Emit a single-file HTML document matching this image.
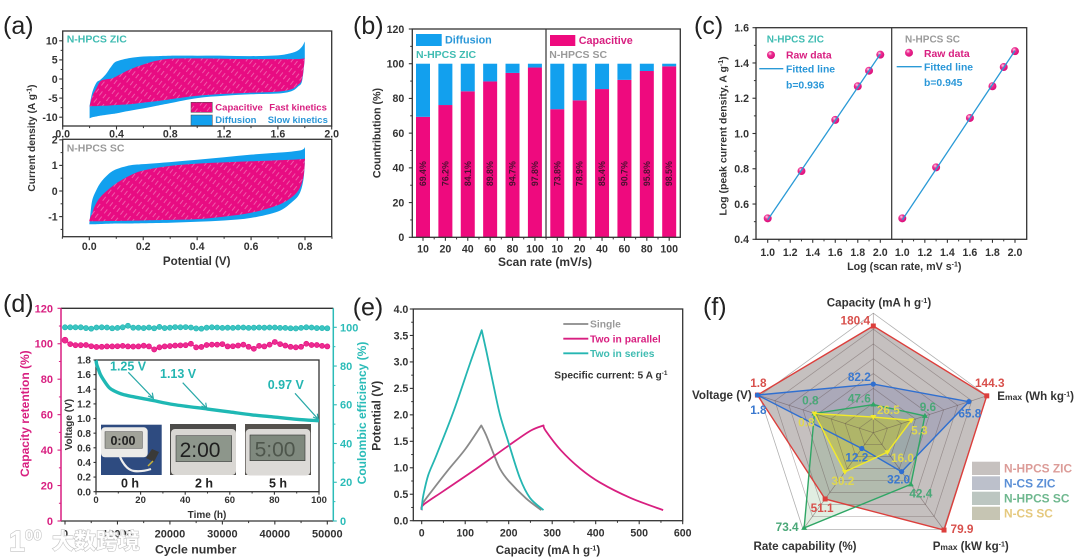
<!DOCTYPE html>
<html lang="en">
<head>
<meta charset="utf-8">
<title>Energy storage device performance panels</title>
<style>
html,body{margin:0;padding:0;background:#fff;width:1080px;height:560px;overflow:hidden}
svg{display:block;filter:blur(.35px)}
text{font-family:"Liberation Sans","Noto Sans CJK SC",sans-serif;font-weight:bold;fill:#333}
.letter{font-size:25px;font-weight:normal;fill:#222}
.title{font-size:11.6px;fill:#333}
.teal{fill:#3fbcb2}.grey{fill:#9a9a9a}.pink{fill:#d81f80}.blue{fill:#2a97d8}
.frame{fill:none;stroke:#333;stroke-width:1.3}
</style>
</head>
<body>
<svg id="chart" xmlns="http://www.w3.org/2000/svg" width="1080" height="560" viewBox="0 0 1080 560">
<defs>
<pattern id="hatch" patternUnits="userSpaceOnUse" width="4.5" height="9" patternTransform="rotate(38)">
<rect width="4.5" height="9" fill="#e80c82"/>
<line x1="2" y1="0" x2="2" y2="5" stroke="#f590c4" stroke-width=".6"/>
</pattern>
<radialGradient id="sphere" cx=".38" cy=".32" r=".75">
<stop offset="0" stop-color="#ffd8ec"/><stop offset=".35" stop-color="#ec2d90"/><stop offset="1" stop-color="#d80a78"/>
</radialGradient>
</defs>

<g id="panel-a">
<text class="letter" x="3" y="34">(a)</text>
<g id="a-marks"></g>
<rect class="frame" x="62.7" y="31" width="269" height="95"/>
<rect class="frame" x="62.7" y="139.3" width="269" height="97.4"/>
<text class="teal" x="66.7" y="42.3" font-size="10.5">N-HPCS ZIC</text>
<text class="grey" x="66.7" y="151.7" font-size="10.5">N-HPCS SC</text>
<rect x="191" y="102.3" width="21.3" height="10" fill="url(#hatch)" stroke="#444" stroke-width=".5"/>
<rect x="191" y="115" width="21.3" height="10.5" fill="#12a0ee" stroke="#444" stroke-width=".5"/>
<text class="pink" x="215.3" y="110.3" font-size="9.5">Capacitive</text>
<text class="pink" x="269.3" y="110.3" font-size="9.5">Fast kinetics</text>
<text class="blue" x="215.3" y="122.9" font-size="9.5">Diffusion</text>
<text class="blue" x="267.7" y="122.9" font-size="9.5">Slow kinetics</text>
<text class="title" x="196.7" y="265" text-anchor="middle">Potential (V)</text>
<text class="title" transform="translate(35,138) rotate(-90)" text-anchor="middle" style="font-size:10.2px">Current density (A g<tspan dy="-3.5" font-size="7">-1</tspan><tspan dy="3.5">)</tspan></text>
</g>

<g id="panel-b">
<text class="letter" x="353" y="34">(b)</text>
<g id="b-marks"></g>
<rect class="frame" x="412.3" y="29" width="268" height="208.3"/>
<line x1="546" x2="546" y1="29" y2="237.3" stroke="#333" stroke-width="1.2"/>
<rect x="416" y="34" width="25.7" height="12" fill="#12a0ee"/>
<text x="445" y="43.6" font-size="10.8" style="fill:#2a97d8">Diffusion</text>
<rect x="550" y="35" width="25.3" height="11" fill="#ee0a7e"/>
<text class="pink" x="578.7" y="44" font-size="10.8">Capacitive</text>
<text class="teal" x="416" y="58" font-size="10.5">N-HPCS ZIC</text>
<text class="grey" x="549.3" y="58" font-size="10.5">N-HPCS SC</text>
<text class="title" x="545" y="266" text-anchor="middle" style="font-size:12px">Scan rate (mV/s)</text>
<text class="title" transform="translate(380.5,133) rotate(-90)" text-anchor="middle" style="font-size:10.7px">Countribution (%)</text>
</g>

<g id="panel-c">
<text class="letter" x="694" y="34">(c)</text>
<g id="c-marks"></g>
<rect class="frame" x="756" y="27.7" width="270.7" height="211.6"/>
<line x1="891.7" x2="891.7" y1="27.7" y2="239.3" stroke="#333" stroke-width="1.2"/>
<text class="teal" x="766.7" y="42.3" font-size="10">N-HPCS ZIC</text>
<circle cx="771" cy="55" r="4" fill="url(#sphere)"/>
<text class="pink" x="786" y="58.6" font-size="10.4">Raw data</text>
<line x1="759.3" x2="783.3" y1="68.7" y2="68.7" stroke="#2a9ad6" stroke-width="1.4"/>
<text class="blue" x="786" y="72.5" font-size="10.4">Fitted line</text>
<text class="blue" x="786" y="88.6" font-size="10.4">b=0.936</text>
<text class="grey" x="905" y="42.3" font-size="10">N-HPCS SC</text>
<circle cx="909" cy="52.7" r="4" fill="url(#sphere)"/>
<text class="pink" x="924" y="57" font-size="10.4">Raw data</text>
<line x1="896.7" x2="921.7" y1="66.7" y2="66.7" stroke="#2a9ad6" stroke-width="1.4"/>
<text class="blue" x="924" y="70.3" font-size="10.4">Fitted line</text>
<text class="blue" x="924" y="86" font-size="10.4">b=0.945</text>
<text class="title" x="904.3" y="270" text-anchor="middle" style="font-size:10.7px">Log (scan rate, mV s<tspan dy="-3.5" font-size="7">-1</tspan><tspan dy="3.5">)</tspan></text>
<text class="title" transform="translate(726.5,136) rotate(-90)" text-anchor="middle" style="font-size:10.5px">Log (peak current density, A g<tspan dy="-3.5" font-size="7">-1</tspan><tspan dy="3.5">)</tspan></text>
</g>

<g id="panel-d">
<text class="letter" x="3" y="312">(d)</text>
<line x1="61" x2="333.3" y1="308.3" y2="308.3" stroke="#333" stroke-width="1.3"/>
<line x1="61" x2="333.3" y1="521" y2="521" stroke="#333" stroke-width="1.3"/>
<line x1="61" x2="61" y1="308.3" y2="521" stroke="#d81f80" stroke-width="1.5"/>
<line x1="333.3" x2="333.3" y1="308.3" y2="521" stroke="#2bbcb8" stroke-width="1.5"/>
<g id="d-marks"></g>
<rect class="frame" x="96" y="360" width="223" height="131.7"/>
<g id="d-inset"></g>
<text class="teal" x="110" y="370.7" font-size="12.5" style="fill:#25b6b2">1.25 V</text>
<text class="teal" x="160" y="378" font-size="12.5" style="fill:#25b6b2">1.13 V</text>
<text class="teal" x="267.7" y="389" font-size="12.5" style="fill:#25b6b2">0.97 V</text>
<path d="M128.3 372.3L153.3 398.3M148 396l5.3 2.3-1-5.6M182.7 382.7L206.7 408.3M201.5 406l5.2 2.3-1-5.6M295 393.3L318.3 419.3M313 417l5.3 2.3-1-5.6" fill="none" stroke="#2aa9a8" stroke-width="1.2"/>
<g>
<rect x="101" y="424.7" width="60.7" height="50.3" fill="#2e4b80"/>
<path d="M120 457q6 13 14 14q8 1 17-2" fill="none" stroke="#eee" stroke-width="2.2"/>
<path d="M146 458l6-9 7 3-5 10z" fill="#3a3a38"/>
<path d="M148 466l5-5" stroke="#c8b23a" stroke-width="1.5"/>
<rect x="101" y="427.3" width="46.7" height="30" rx="4" fill="#ecebe8"/>
<rect x="105" y="431.7" width="37.3" height="16.6" fill="#a2a39a" stroke="#444" stroke-width=".5"/>
<text x="123" y="445" text-anchor="middle" font-size="12.5" style="fill:#222">0:00</text>
</g>
<g>
<rect x="170" y="424" width="66" height="51" fill="#4d4c4a"/>
<rect x="171" y="429" width="65" height="46" rx="4" fill="#d9d7d3"/>
<rect x="176" y="435.7" width="55.7" height="26" fill="#8d968b" stroke="#444" stroke-width=".6"/>
<text x="200" y="457" text-anchor="middle" font-size="21" style="fill:#1f1f1f;font-weight:normal">2:00</text>
</g>
<g>
<rect x="245" y="424" width="66" height="51" fill="#55524e"/>
<rect x="245.7" y="429" width="64.5" height="46.5" rx="4" fill="#dcdad7"/>
<rect x="250" y="435" width="55" height="25.7" fill="#7f897e" stroke="#333" stroke-width=".6"/>
<text x="275" y="456.5" text-anchor="middle" font-size="21" style="fill:#4e564c;font-weight:normal">5:00</text>
</g>
<text x="130" y="487.7" text-anchor="middle" font-size="12.5" style="fill:#222">0 h</text>
<text x="204" y="487.7" text-anchor="middle" font-size="12.5" style="fill:#222">2 h</text>
<text x="278" y="487.7" text-anchor="middle" font-size="12.5" style="fill:#222">5 h</text>
<text x="207" y="518" text-anchor="middle" font-size="10">Time (h)</text>
<text transform="translate(72,424.7) rotate(-90)" text-anchor="middle" font-size="10">Voltage (V)</text>
<text class="title" x="195.7" y="553.3" text-anchor="middle" style="font-size:12.3px">Cycle number</text>
<text class="pink" transform="translate(29,413.7) rotate(-90)" text-anchor="middle" font-size="12">Capacity retention (%)</text>
<text class="teal" transform="translate(366,413) rotate(-90)" text-anchor="middle" font-size="12" style="fill:#2bbcb8">Coulombic efficiency (%)</text>
</g>

<g id="panel-e">
<text class="letter" x="352.7" y="315.7">(e)</text>
<g id="e-marks"></g>
<rect class="frame" x="413.3" y="309" width="269.4" height="211.7"/>
<line x1="563.3" x2="588.3" y1="324" y2="324" stroke="#8a8a8a" stroke-width="1.8"/>
<text class="grey" x="590" y="327.6" font-size="10.3">Single</text>
<line x1="563.3" x2="588.3" y1="338.7" y2="338.7" stroke="#d81f80" stroke-width="1.8"/>
<text class="pink" x="590" y="342.3" font-size="10.3">Two in parallel</text>
<line x1="563.3" x2="588.3" y1="353.3" y2="353.3" stroke="#25b6b2" stroke-width="1.8"/>
<text class="teal" x="590" y="356.9" font-size="10.3">Two in series</text>
<text x="554.3" y="378.3" font-size="10.2">Specific current: 5 A g<tspan dy="-3.5" font-size="6.5">-1</tspan></text>
<text class="title" x="548" y="554" text-anchor="middle">Capacity (mA h g<tspan dy="-3.5" font-size="7">-1</tspan><tspan dy="3.5">)</tspan></text>
<text class="title" transform="translate(380.5,415.8) rotate(-90)" text-anchor="middle" style="font-size:12px">Potential (V)</text>
</g>

<g id="panel-f">
<text class="letter" x="703" y="315">(f)</text>
<g id="f-marks"></g>
<text class="title" x="879" y="306.7" text-anchor="middle">Capacity (mA h g<tspan dy="-3.5" font-size="7">-1</tspan><tspan dy="3.5">)</tspan></text>
<text class="title" x="997.3" y="400">E<tspan font-size="8.5">max</tspan> (Wh kg<tspan dy="-3.5" font-size="7">-1</tspan><tspan dy="3.5">)</tspan></text>
<text class="title" x="932.7" y="550">P<tspan font-size="8.5">max</tspan> (kW kg<tspan dy="-3.5" font-size="7">-1</tspan><tspan dy="3.5">)</tspan></text>
<text class="title" x="805" y="550" text-anchor="middle">Rate capability (%)</text>
<text class="title" x="751.7" y="399" text-anchor="end">Voltage (V)</text>
<rect x="972" y="461.7" width="28" height="13.3" fill="#c6c1bf"/>
<rect x="972" y="476.3" width="28" height="13.7" fill="#bcc0cb"/>
<rect x="972" y="491.7" width="28" height="13.3" fill="#bcc6c1"/>
<rect x="972" y="506.7" width="28" height="13.3" fill="#c6c5b3"/>
<text x="1004" y="472.5" font-size="11.9" style="fill:#dc9c98">N-HPCS ZIC</text>
<text x="1004" y="487.5" font-size="11.9" style="fill:#5b8fd6">N-CS ZIC</text>
<text x="1004" y="502.5" font-size="11.9" style="fill:#6fb88f">N-HPCS SC</text>
<text x="1004" y="517.5" font-size="11.9" style="fill:#e5c97e">N-CS SC</text>
</g>

<g id="axes-top"></g>

<g opacity=".9">
<text x="9" y="551" font-size="29" style="fill:#fff;stroke:#bdbdbd;stroke-width:1.2;paint-order:stroke">1</text>
<text x="25" y="540" font-size="15" style="fill:#fff;stroke:#bdbdbd;stroke-width:1.2;paint-order:stroke">00</text>
<text x="52" y="549" font-size="22" style="fill:#fff;stroke:#bdbdbd;stroke-width:1.2;paint-order:stroke">大数跨境</text>
</g>
</svg>

<script>
/* ---------- panel a data ---------- */
const zicV = [0.2,0.22,0.25,0.28,0.32,0.36,0.4,0.5,0.6,0.7,0.8,1.0,1.2,1.4,1.6,1.7,1.75,1.78,1.8];
const zicOuterUp = [-7,-3.5,-1,-0.2,1.2,3.2,4.6,5.5,5.9,6,6.1,6.1,6.1,6,6.2,6.8,7.5,8.5,9.8];
const zicOuterDown = [-10.3,-10,-9.8,-9.6,-9.4,-9.2,-9,-8.3,-7.7,-7,-6.3,-5,-4.4,-4,-3.8,-3.2,-2,-0.5,5.3];
const zicInnerUp = [-7.2,-4.5,-2.5,-0.6,-0.1,0.1,0.7,2.5,3.8,4.8,5.3,5.4,5.3,5.2,5.2,5.2,5.2,5.3,5.4];
const zicInnerDown = [-7.2,-7.1,-7.1,-7,-7,-6.9,-6.8,-6.6,-6.2,-5.8,-5.3,-4.4,-3.9,-3.6,-3.3,-2.7,-1.5,0,5.4];
const scV = [0,0.005,0.01,0.02,0.04,0.07,0.1,0.15,0.2,0.3,0.4,0.5,0.6,0.7,0.75,0.78,0.795,0.8];
const scOuterUp = [-1.3,-0.8,-0.4,-0.1,0.3,0.65,0.85,1,1.05,1.13,1.22,1.32,1.42,1.5,1.54,1.58,1.64,1.72];
const scOuterDown = [-1.3,-1.3,-1.3,-1.3,-1.29,-1.28,-1.27,-1.27,-1.26,-1.24,-1.2,-1.15,-1.05,-0.8,-0.45,-0.1,0.5,1.25];
const scInnerUp = [-1.15,-1,-0.9,-0.6,-0.25,0.05,0.3,0.6,0.8,0.98,1.07,1.12,1.16,1.2,1.22,1.24,1.25,1.27];
const scInnerDown = [-1.18,-1.18,-1.18,-1.18,-1.18,-1.17,-1.17,-1.16,-1.15,-1.13,-1.1,-1,-0.85,-0.55,-0.25,0.1,0.6,1.27];
const aTopXTicks = [0,0.4,0.8,1.2,1.6,2];
const aTopXLabels = ['0.0','0.4','0.8','1.2','1.6','2.0'];
const aTopXMinor = [0.2,0.6,1,1.4,1.8];
const aTopYTicks = [10,5,0,-5,-10];
const aTopYLabels = ['10','5','0','-5','-10'];
const aTopYMinor = [7.5,2.5,-2.5,-7.5];
const aBotXTicks = [0,0.2,0.4,0.6,0.8];
const aBotXLabels = ['0.0','0.2','0.4','0.6','0.8'];
const aBotXMinor = [-0.1,0.1,0.3,0.5,0.7,0.9];
const aBotYTicks = [2,1,0,-1];
const aBotYLabels = ['2','1','0','-1'];
const aBotYMinor = [1.5,0.5,-0.5,-1.5];

/* ---------- panel b data ---------- */
const scanRates = ['10','20','40','60','80','100','10','20','40','60','80','100'];
const capacitive = [69.4,76.2,84.1,89.8,94.7,97.8,73.8,78.9,85.4,90.7,95.8,98.5];
const diffusion = [30.6,23.8,15.9,10.2,5.3,2.2,26.2,21.1,14.6,9.3,4.2,1.5];
const bYTicks = [0,20,40,60,80,100,120];
const bYLabels = ['0','20','40','60','80','100','120'];
const bYMinor = [10,30,50,70,90,110];

/* ---------- panel c data ---------- */
const logRate = [1,1.3,1.6,1.8,1.9,2];
const logPeakZic = [0.519,0.787,1.077,1.268,1.356,1.447];
const logPeakSc = [0.519,0.808,1.088,1.268,1.377,1.467];
const fitX = [1,2];
const fitZic = [0.51,1.45];
const fitSc = [0.51,1.47];
const cXTicks = [1,1.2,1.4,1.6,1.8,2];
const cXLabels = ['1.0','1.2','1.4','1.6','1.8','2.0'];
const cXMinor = [1.1,1.3,1.5,1.7,1.9];
const cYTicks = [0.4,0.6,0.8,1,1.2,1.4,1.6];
const cYLabels = ['0.4','0.6','0.8','1.0','1.2','1.4','1.6'];
const cYMinor = [0.5,0.7,0.9,1.1,1.3,1.5];

/* ---------- panel d data ---------- */
const cycles = [0,1000,2000,3000,4000,5000,6000,7000,8000,9000,10000,11000,12000,13000,14000,15000,16000,17000,18000,19000,20000,21000,22000,23000,24000,25000,26000,27000,28000,29000,30000,31000,32000,33000,34000,35000,36000,37000,38000,39000,40000,41000,42000,43000,44000,45000,46000,47000,48000,49000,50000];
const retention = [102,99.8,99.2,99.2,99.3,98.6,98.2,98.3,98.5,98.5,98.6,98.8,98.5,98.4,98.5,98.9,98.5,96.8,98,98.5,98.7,99,99.1,99.2,100,98,98.2,99.3,99.5,99.5,99.8,98.5,98.6,99,99.5,98.3,97.2,98.8,98.5,99.5,101,99.8,99,98.3,98,98.3,100,99.3,99.3,98.8,98.5];
const coulombic = [100,100,100,100,99.6,99.3,99.9,100,99.9,99.5,99.7,100,100.8,99.8,99.8,99.6,99.9,99.5,100.2,99.6,99.8,100.1,100,100.1,99.9,99.4,99.3,99.8,100,99.9,99.7,99.8,99.7,99.9,99.9,99.7,99.8,99.9,99.8,99.9,99.9,99.7,99.7,99.5,99.4,99.7,100,99.9,99.6,99.6,99.5];
const dischargeHours = [0,0.3,1,2,4,6,8,12,18,25,35,50,60,70,80,90,100];
const dischargeVolts = [1.8,1.74,1.68,1.6,1.5,1.42,1.38,1.33,1.29,1.25,1.19,1.13,1.09,1.05,1.02,0.99,0.97];
const dXTicks = [0,10000,20000,30000,40000,50000];
const dXLabels = ['0','10000','20000','30000','40000','50000'];
const dXMinor = [5000,15000,25000,35000,45000];
const dLeftTicks = [0,20,40,60,80,100,120];
const dLeftLabels = ['0','20','40','60','80','100','120'];
const dLeftMinor = [10,30,50,70,90,110];
const dRightTicks = [0,20,40,60,80,100];
const dRightLabels = ['0','20','40','60','80','100'];
const dRightMinor = [10,30,50,70,90];
const insetXTicks = [0,20,40,60,80,100];
const insetXLabels = ['0','20','40','60','80','100'];
const insetXMinor = [10,30,50,70,90];
const insetYTicks = [0,0.2,0.4,0.6,0.8,1,1.2,1.4,1.6,1.8];
const insetYLabels = ['0.0','0.2','0.4','0.6','0.8','1.0','1.2','1.4','1.6','1.8'];

/* ---------- panel e data (charge then discharge branch) ---------- */
const singleChargeCap = [0,2,25,60,100,137];
const singleChargeV = [0.2,0.32,0.58,0.95,1.35,1.8];
const singleDischargeCap = [137,148,165,180,200,240,275];
const singleDischargeV = [1.8,1.62,1.27,0.98,0.75,0.42,0.2];
const parallelChargeCap = [0,4,50,120,200,250,280];
const parallelChargeV = [0.2,0.3,0.56,0.95,1.42,1.7,1.8];
const parallelDischargeCap = [280,285,320,365,410,480,555];
const parallelDischargeV = [1.8,1.7,1.33,0.98,0.72,0.43,0.2];
const seriesChargeCap = [0,1,4,15,34,73,111,138];
const seriesChargeV = [0.2,0.32,0.49,0.86,1.24,2.06,2.97,3.6];
const seriesDischargeCap = [138,149,165,180,199,226,249,280];
const seriesDischargeV = [3.6,3.19,2.56,2,1.49,0.8,0.43,0.2];
const eXTicks = [0,100,200,300,400,500,600];
const eXLabels = ['0','100','200','300','400','500','600'];
const eXMinor = [50,150,250,350,450,550];
const eYTicks = [0,0.5,1,1.5,2,2.5,3,3.5,4];
const eYLabels = ['0.0','0.5','1.0','1.5','2.0','2.5','3.0','3.5','4.0'];
const eYMinor = [0.25,0.75,1.25,1.75,2.25,2.75,3.25,3.75];

/* ---------- panel f data (capacity, Emax, Pmax, rate capability, voltage) ---------- */
const radarAxes = ['capacity','emax','pmax','rate-capability','voltage'];
const nhpcsZic = [180.4,144.3,79.9,51.1,1.8];
const ncsZic = [82.2,65.8,32.0,12.2,1.8];
const nhpcsSc = [47.6,9.6,42.4,73.4,0.8];
const ncsSc = [26.5,5.3,16.0,30.2,0.8];

/* ---------- helpers ---------- */
const NS = 'http://www.w3.org/2000/svg';
function add(parent, tag, attrs) {
  const e = document.createElementNS(NS, tag);
  for (const k in attrs) e.setAttribute(k, attrs[k]);
  parent.appendChild(e);
  return e;
}
const scale = (d0, d1, r0, r1) => v => r0 + (v - d0) * (r1 - r0) / (d1 - d0);
const xy = (xs, ys, fx, fy) => xs.map((x, i) => [fx(x), fy(ys[i])]);
/* Catmull-Rom through points; cmd is the leading command (M or L) */
function curve(p, cmd) {
  let d = cmd + p[0][0].toFixed(2) + ' ' + p[0][1].toFixed(2);
  for (let i = 0; i < p.length - 1; i++) {
    const a = p[Math.max(i - 1, 0)], b = p[i], c = p[i + 1], e = p[Math.min(i + 2, p.length - 1)];
    d += 'C' + (b[0] + (c[0] - a[0]) / 6).toFixed(2) + ' ' + (b[1] + (c[1] - a[1]) / 6).toFixed(2) + ' ' +
         (c[0] - (e[0] - b[0]) / 6).toFixed(2) + ' ' + (c[1] - (e[1] - b[1]) / 6).toFixed(2) + ' ' +
         c[0].toFixed(2) + ' ' + c[1].toFixed(2);
  }
  return d;
}
const band = (xs, up, down, fx, fy) => curve(xy(xs, up, fx, fy), 'M') + curve(xy(xs, down, fx, fy).reverse(), 'L') + 'Z';

function axis(parent, side, pos, s, ticks, labels, minor, o) {
  const color = o.color || '#333', fs = o.fs || 10.6, gap = o.gap, len = o.len || 3.5;
  const horizontal = side === 'bottom';
  const sign = side === 'left' ? -1 : 1;
  ticks.forEach((v, i) => {
    const p = s(v);
    const t = horizontal
      ? add(parent, 'line', {x1: p, x2: p, y1: pos, y2: pos + len, stroke: color, 'stroke-width': 1.1})
      : add(parent, 'line', {y1: p, y2: p, x1: pos, x2: pos + sign * len, stroke: color, 'stroke-width': 1.1});
    
    
    const l = horizontal
      ? add(parent, 'text', {x: p, y: pos + gap, 'text-anchor': 'middle', 'font-size': fs, style: 'fill:' + color})
      : add(parent, 'text', {x: pos + sign * gap, y: p + fs * 0.36, 'text-anchor': side === 'left' ? 'end' : 'start', 'font-size': fs, style: 'fill:' + color});
    l.textContent = labels[i];
    
    
  });
  (minor || []).forEach(v => {
    const p = s(v);
    const t = horizontal
      ? add(parent, 'line', {x1: p, x2: p, y1: pos, y2: pos + len * 0.6, stroke: color, 'stroke-width': 1})
      : add(parent, 'line', {y1: p, y2: p, x1: pos, x2: pos + sign * len * 0.6, stroke: color, 'stroke-width': 1});
    
    
  });
}

const axesG = document.getElementById('axes-top');

/* ---------- panel a ---------- */
const aMarks = document.getElementById('a-marks');
const axTop = scale(0, 2, 62.7, 331.7);
const ayTop = scale(0, 10, 79, 40.8);
const axBot = scale(0, 0.8, 89.3, 305);
const ayBot = scale(0, 1, 191, 165.4);

const zicOuter = add(aMarks, 'path', {d: band(zicV, zicOuterUp, zicOuterDown, axTop, ayTop), fill: '#12a0ee'});


const zicInner = add(aMarks, 'path', {d: band(zicV, zicInnerUp, zicInnerDown, axTop, ayTop), fill: 'url(#hatch)'});


const scOuter = add(aMarks, 'path', {d: band(scV, scOuterUp, scOuterDown, axBot, ayBot), fill: '#12a0ee'});


const scInner = add(aMarks, 'path', {d: band(scV, scInnerUp, scInnerDown, axBot, ayBot), fill: 'url(#hatch)'});



axis(axesG, 'bottom', 126, axTop, aTopXTicks, aTopXLabels, aTopXMinor, {gap: 11.5});
axis(axesG, 'left', 62.7, ayTop, aTopYTicks, aTopYLabels, aTopYMinor, {gap: 5});
axis(axesG, 'bottom', 236.7, axBot, aBotXTicks, aBotXLabels, aBotXMinor, {gap: 13.5});
axis(axesG, 'left', 62.7, ayBot, aBotYTicks, aBotYLabels, aBotYMinor, {gap: 5});

/* ---------- panel b ---------- */
const bMarks = document.getElementById('b-marks');
const bx = scale(0, 11, 423, 669.2);
const by = scale(0, 120, 237.3, 29);
const barW = 14;
capacitive.forEach((v, i) => {
  const bar = add(bMarks, 'rect', {x: bx(i) - barW / 2, y: by(v), width: barW, height: by(0) - by(v), fill: '#ee0a7e'});
  
  
  const top = add(bMarks, 'rect', {x: bx(i) - barW / 2, y: by(v + diffusion[i]), width: barW, height: by(v) - by(v + diffusion[i]), fill: '#12a0ee'});
  
  
  const lab = add(bMarks, 'text', {transform: 'translate(' + (bx(i) + 3) + ',173.7) rotate(-90)', 'text-anchor': 'middle', 'font-size': 8.8, style: 'fill:#4a1030'});
  lab.textContent = v.toFixed(1) + '%';
  
  
});
const bIdx = scanRates.map((_, i) => i);
const bMinorIdx = bIdx.slice(0, -1).map(i => i + 0.5);
axis(axesG, 'bottom', 237.3, bx, bIdx, scanRates, bMinorIdx, {gap: 15});
axis(axesG, 'left', 412.3, by, bYTicks, bYLabels, bYMinor, {gap: 8});

/* ---------- panel c ---------- */
const cMarks = document.getElementById('c-marks');
const cy = scale(0.4, 1.6, 239.3, 27.7);
const cx1 = scale(1, 2, 767.7, 880.3);
const cx2 = scale(1, 2, 902.3, 1015);
logRate.forEach((x, i) => {
  const a = add(cMarks, 'circle', {cx: cx1(x), cy: cy(logPeakZic[i]), r: 4, fill: 'url(#sphere)'});
  
  
  const b = add(cMarks, 'circle', {cx: cx2(x), cy: cy(logPeakSc[i]), r: 4, fill: 'url(#sphere)'});
  
  
});
const fit1 = add(cMarks, 'polyline', {points: xy(fitX, fitZic, cx1, cy).join(' '), fill: 'none', stroke: '#2a9ad6', 'stroke-width': 1.3});


const fit2 = add(cMarks, 'polyline', {points: xy(fitX, fitSc, cx2, cy).join(' '), fill: 'none', stroke: '#2a9ad6', 'stroke-width': 1.3});


axis(axesG, 'bottom', 239.3, cx1, cXTicks, cXLabels, cXMinor, {gap: 16.7});
axis(axesG, 'bottom', 239.3, cx2, cXTicks, cXLabels, cXMinor, {gap: 16.7});
axis(axesG, 'left', 756, cy, cYTicks, cYLabels, cYMinor, {gap: 7});

/* ---------- panel d ---------- */
const dMarks = document.getElementById('d-marks');
const dx = scale(0, 50000, 65, 327.3);
const dyL = scale(0, 120, 521, 308.3);
const dyR = scale(0, 100, 521, 327.3);
const retLine = add(dMarks, 'polyline', {points: xy(cycles, retention, dx, dyL).join(' '), fill: 'none', stroke: '#e60a80', 'stroke-width': 1});


const ceLine = add(dMarks, 'polyline', {points: xy(cycles, coulombic, dx, dyR).join(' '), fill: 'none', stroke: '#23b8b6', 'stroke-width': 1});


cycles.forEach((c, i) => {
  const r = add(dMarks, 'circle', {cx: dx(c), cy: dyL(retention[i]), r: i === 0 ? 3 : 2.6, fill: '#ec2d90', stroke: '#e60a80', 'stroke-width': .6});
  
  
  const e = add(dMarks, 'circle', {cx: dx(c), cy: dyR(coulombic[i]), r: 2.6, fill: '#3cc5c2', stroke: '#1fb3b1', 'stroke-width': .6});
  
  
});
axis(axesG, 'bottom', 521, dx, dXTicks, dXLabels, dXMinor, {gap: 16.3, fs: 11});
axis(axesG, 'left', 61, dyL, dLeftTicks, dLeftLabels, dLeftMinor, {gap: 8, color: '#d81f80', fs: 11});
axis(axesG, 'right', 333.3, dyR, dRightTicks, dRightLabels, dRightMinor, {gap: 6.7, color: '#2bbcb8', fs: 11});

const dInset = document.getElementById('d-inset');
const ix = scale(0, 100, 96, 319);
const iy = scale(0, 1.8, 491.7, 360);
const dis = add(dInset, 'path', {d: curve(xy(dischargeHours, dischargeVolts, ix, iy), 'M'), fill: 'none', stroke: '#1fb8b4', 'stroke-width': 3.4, 'stroke-linejoin': 'round'});


axis(axesG, 'bottom', 491.7, ix, insetXTicks, insetXLabels, insetXMinor, {gap: 11.2, fs: 9.5, len: 3});
axis(axesG, 'left', 96, iy, insetYTicks, insetYLabels, [], {gap: 5, fs: 10, len: 2.5});

/* ---------- panel e ---------- */
const eMarks = document.getElementById('e-marks');
const ex = scale(0, 600, 421.7, 682.7);
const ey = scale(0, 4, 520.7, 309);
const singleLine = add(eMarks, 'path', {d: curve(xy(singleChargeCap, singleChargeV, ex, ey), 'M') + curve(xy(singleDischargeCap, singleDischargeV, ex, ey), 'L'), fill: 'none', stroke: '#8a8a8a', 'stroke-width': 1.8, 'stroke-linejoin': 'round'});


const parLine = add(eMarks, 'path', {d: curve(xy(parallelChargeCap, parallelChargeV, ex, ey), 'M') + curve(xy(parallelDischargeCap, parallelDischargeV, ex, ey), 'L'), fill: 'none', stroke: '#d81f80', 'stroke-width': 1.8, 'stroke-linejoin': 'round'});


const serLine = add(eMarks, 'path', {d: curve(xy(seriesChargeCap, seriesChargeV, ex, ey), 'M') + curve(xy(seriesDischargeCap, seriesDischargeV, ex, ey), 'L'), fill: 'none', stroke: '#25b6b2', 'stroke-width': 1.8, 'stroke-linejoin': 'round'});


axis(axesG, 'bottom', 520.7, ex, eXTicks, eXLabels, eXMinor, {gap: 16});
axis(axesG, 'left', 413.3, ey, eYTicks, eYLabels, eYMinor, {gap: 5});

/* ---------- panel f ---------- */
const fMarks = document.getElementById('f-marks');
const rcx = 873.3, rcy = 432.7, R = 118.3, ringCount = 8;
const radarScales = [v => v / 200, v => 0.467 * Math.log10(v), v => v * 0.01273, v => v * 0.01355, v => 0.119 + 0.506 * v];
const radarPt = (i, f) => {
  const a = (-90 + 72 * i) * Math.PI / 180;
  return [rcx + R * f * Math.cos(a), rcy + R * f * Math.sin(a)];
};
const ringPts = f => radarAxes.map((_, i) => radarPt(i, f).map(n => n.toFixed(2)).join(',')).join(' ');
const outer = add(fMarks, 'polygon', {points: ringPts(1.01), fill: '#fff', stroke: '#b0b0b0', 'stroke-width': .8});



const seriesList = [nhpcsZic, ncsZic, nhpcsSc, ncsSc];
const seriesFill = ['rgba(128,118,116,.46)', 'rgba(95,105,170,.26)', 'rgba(105,170,110,.2)', 'rgba(195,195,35,.48)'];
const seriesStroke = ['#dc3f3c', '#2f6fd0', '#2fa665', '#f2ea2a'];
const labelColor = ['#d8504c', '#3a78cf', '#4aa878', '#e0d850'];
const labelOffsets = [
  [[-18,-1.5],[3,-9],[18,3],[-3,13],[1,-8]],
  [[-14,-3],[1,16],[-3,12],[-5,13],[1,19]],
  [[-14,-2],[3,-5],[10,13],[-17,3],[-4,-9]],
  [[15,-3],[8,14],[15,10],[-2,13],[-8,13]]
];
seriesList.forEach((vals, s) => {
  const poly = radarAxes.map((_, i) => radarPt(i, radarScales[i](vals[i])));
  const pg = add(fMarks, 'polygon', {points: poly.map(p => p.map(n => n.toFixed(2)).join(',')).join(' '), fill: seriesFill[s], stroke: 'none'});
  
  
});
for (let k = 1; k < ringCount; k++) {
  const ring = add(fMarks, 'polygon', {points: ringPts(k / ringCount), fill: 'none', stroke: 'rgba(90,75,75,.42)', 'stroke-width': .7});
  
  
}
radarAxes.forEach((_, i) => {
  const p = radarPt(i, 1.01);
  const sp = add(fMarks, 'line', {x1: rcx, y1: rcy, x2: p[0], y2: p[1], stroke: 'rgba(90,70,70,.5)', 'stroke-width': .7});
  
  
});
seriesList.forEach((vals, s) => {
  const poly = radarAxes.map((_, i) => radarPt(i, radarScales[i](vals[i])));
  const pg = add(fMarks, 'polygon', {points: poly.map(p => p.map(n => n.toFixed(2)).join(',')).join(' '), fill: 'none', stroke: seriesStroke[s], 'stroke-width': 1.4});
  
  
  poly.forEach((p, i) => {
    let m;
    if (s === 0) m = add(fMarks, 'rect', {x: p[0] - 2.5, y: p[1] - 2.5, width: 5, height: 5, fill: seriesStroke[s]});
    else if (s === 1) m = add(fMarks, 'circle', {cx: p[0], cy: p[1], r: 2.6, fill: seriesStroke[s]});
    else if (s === 2) m = add(fMarks, 'polygon', {points: [[p[0], p[1] - 3], [p[0] + 3, p[1] + 2], [p[0] - 3, p[1] + 2]].join(' '), fill: seriesStroke[s]});
    else m = add(fMarks, 'polygon', {points: [[p[0], p[1] + 3], [p[0] + 3, p[1] - 2], [p[0] - 3, p[1] - 2]].join(' '), fill: seriesStroke[s]});
    
    
    const off = labelOffsets[s][i];
    const t = add(fMarks, 'text', {x: p[0] + off[0], y: p[1] + off[1], 'text-anchor': 'middle', 'font-size': 11.8, style: 'font-weight:600;fill:' + labelColor[s]});
    t.textContent = vals[i].toFixed(1);
    
    
  });
});
</script>
</body>
</html>
